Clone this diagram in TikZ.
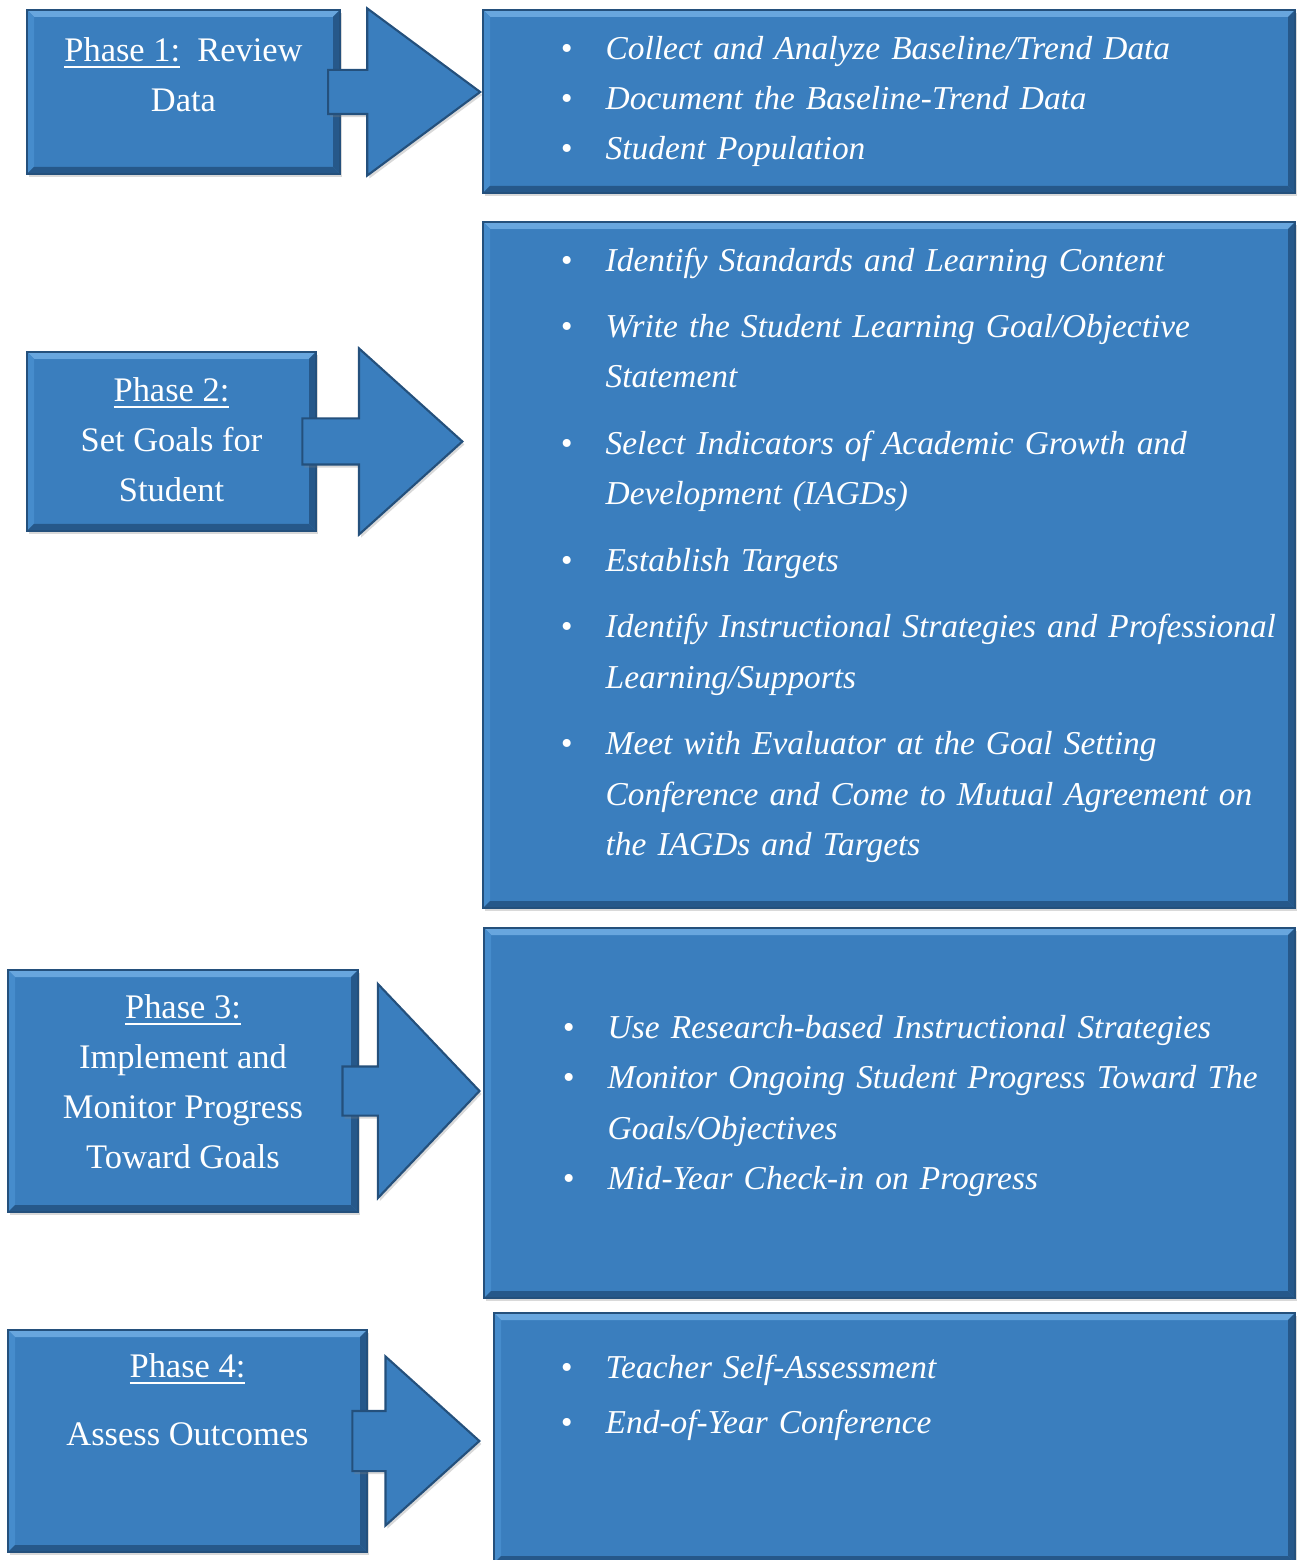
\documentclass[tikz,border=0pt]{standalone}
\usepackage{fontspec}
\setmainfont{Liberation Serif}
\usetikzlibrary{positioning,shapes.arrows,shadows,calc}
\definecolor{boxblue}{RGB}{58,126,190}
\definecolor{edgeblue}{RGB}{36,80,124}
\definecolor{hiblue}{RGB}{104,166,222}
\definecolor{midblue}{RGB}{70,140,204}
\definecolor{loblue}{RGB}{38,88,138}
\newenvironment{steplist}[1]{\begin{list}{\textbullet}{%
  \setlength{\leftmargin}{0.65cm}\setlength{\labelsep}{0.335cm}%
  \setlength{\labelwidth}{0.3cm}\setlength{\topsep}{0pt}%
  \setlength{\partopsep}{0pt}\setlength{\parsep}{0pt}\setlength{\itemsep}{#1}}}%
  {\end{list}}
\tikzset{
  bevel/.style={path picture={
    \coordinate (bl) at (path picture bounding box.south west);
    \coordinate (tr) at (path picture bounding box.north east);
    \coordinate (tl) at (bl |- tr);
    \coordinate (br) at (tr |- bl);
    \fill[hiblue] (tl) -- (tr) -- ($(tr)+(-#1,-#1)$) -- ($(tl)+(#1,-#1)$) -- cycle;
    \fill[midblue] (tl) -- ($(tl)+(#1,-#1)$) -- ($(bl)+(#1,#1)$) -- (bl) -- cycle;
    \fill[loblue] (bl) -- (br) -- ($(br)+(-#1,#1)$) -- ($(bl)+(#1,#1)$) -- cycle;
    \fill[loblue] (br) -- (tr) -- ($(tr)+(-#1,-#1)$) -- ($(br)+(-#1,#1)$) -- cycle;
  }},
  bevel/.default=0.07
}
\begin{document}
\begin{tikzpicture}[
  phasebox/.style={rectangle, fill=boxblue, draw=edgeblue, line width=0.6pt, inner sep=0pt,
    bevel, drop shadow={shadow xshift=0.02cm, shadow yshift=-0.03cm, opacity=0.3}},
  phasetext/.style={text=white, align=center, inner sep=0pt, font=\fontsize{9.8}{14.2}\selectfont},
  listtext/.style={text=white, text width=7.8cm, align=left, inner sep=0pt, anchor=north west,
    font=\fontsize{9.5}{14.35}\selectfont\itshape},
  steparrow/.style={single arrow, fill=boxblue, draw=edgeblue, line width=0.6pt,
    inner xsep=0pt, anchor=tip, drop shadow={shadow xshift=0.02cm, shadow yshift=-0.03cm, opacity=0.3}}
]
\useasboundingbox (0,0) rectangle (12.96,-15.6);

% phase boxes
\node[phasebox, minimum width=3.13cm, minimum height=1.64cm] (p1) at (1.835,-0.92) {};
\node[phasebox, minimum width=2.89cm, minimum height=1.79cm] (p2) at (1.715,-4.415) {};
\node[phasebox, minimum width=3.5cm, minimum height=2.42cm] (p3) at (1.83,-10.91) {};
\node[phasebox, minimum width=3.59cm, minimum height=2.22cm] (p4) at (1.875,-14.41) {};

% list boxes
\node[phasebox, minimum width=8.12cm, minimum height=1.83cm] (r1) at (8.89,-1.015) {};
\node[phasebox, minimum width=8.12cm, minimum height=6.86cm] (r2) at (8.89,-5.65) {};
\node[phasebox, minimum width=8.11cm, minimum height=3.7cm] (r3) at (8.895,-11.13) {};
\node[phasebox, minimum width=8.01cm, minimum height=2.5cm] (r4) at (8.945,-14.38) {};

% arrows
\node[steparrow, minimum height=1.52cm, minimum width=1.65cm, inner ysep=0.21cm,
  single arrow head extend=0.615cm, single arrow tip angle=73] (a1) at (r1.west |- p1.east) {};
\node[steparrow, minimum height=1.6cm, minimum width=1.84cm, inner ysep=0.22cm,
  single arrow head extend=0.7cm, single arrow tip angle=84] (a2) at ($(r2.west |- p2.east)+(-0.18,0)$) {};
\node[steparrow, minimum height=1.37cm, minimum width=2.12cm, inner ysep=0.235cm,
  single arrow head extend=0.825cm, single arrow tip angle=93] (a3) at ($(r3.west |- p3.east)+(-0.02,0)$) {};
\node[steparrow, minimum height=1.27cm, minimum width=1.67cm, inner ysep=0.29cm,
  single arrow head extend=0.545cm, single arrow tip angle=84] (a4) at ($(r4.west |- p4.east)+(-0.12,0)$) {};

% phase texts
\node[phasetext, anchor=north, below=0.28cm of p1.north] (t1) {\underline{Phase 1:}~~Review\\Data};
\node[phasetext, anchor=north, below=0.26cm of p2.north] (t2) {\underline{Phase 2:}\\Set Goals for\\Student};
\node[phasetext, anchor=north, below=0.25cm of p3.north] (t3) {\underline{Phase 3:}\\Implement and\\Monitor Progress\\Toward Goals};
\node[phasetext, anchor=north, below=0.24cm of p4.north] (t4) {\underline{Phase 4:}\\[0.18cm]Assess Outcomes};

% step lists
\node[listtext] (l1) at (5.40,-0.08) {\begin{steplist}{0pt}
  \item Collect and Analyze Baseline/Trend Data
  \item Document the Baseline-Trend Data
  \item Student Population
\end{steplist}};
\node[listtext] (l2) at (5.40,-2.2) {\begin{steplist}{0.16cm}
  \item Identify Standards and Learning Content
  \item Write the Student Learning Goal/Objective\newline Statement
  \item Select Indicators of Academic Growth and\newline Development (IAGDs)
  \item Establish Targets
  \item Identify Instructional Strategies and Professional\newline Learning/Supports
  \item Meet with Evaluator at the Goal Setting\newline Conference and Come to Mutual Agreement on\newline the IAGDs and Targets
\end{steplist}};
\node[listtext] (l3) at (5.42,-9.87) {\begin{steplist}{0pt}
  \item Use Research-based Instructional Strategies
  \item Monitor Ongoing Student Progress Toward The\newline Goals/Objectives
  \item Mid-Year Check-in on Progress
\end{steplist}};
\node[listtext] (l4) at (5.40,-13.27) {\begin{steplist}{0.05cm}
  \item Teacher Self-Assessment
  \item End-of-Year Conference
\end{steplist}};
\end{tikzpicture}
\end{document}
